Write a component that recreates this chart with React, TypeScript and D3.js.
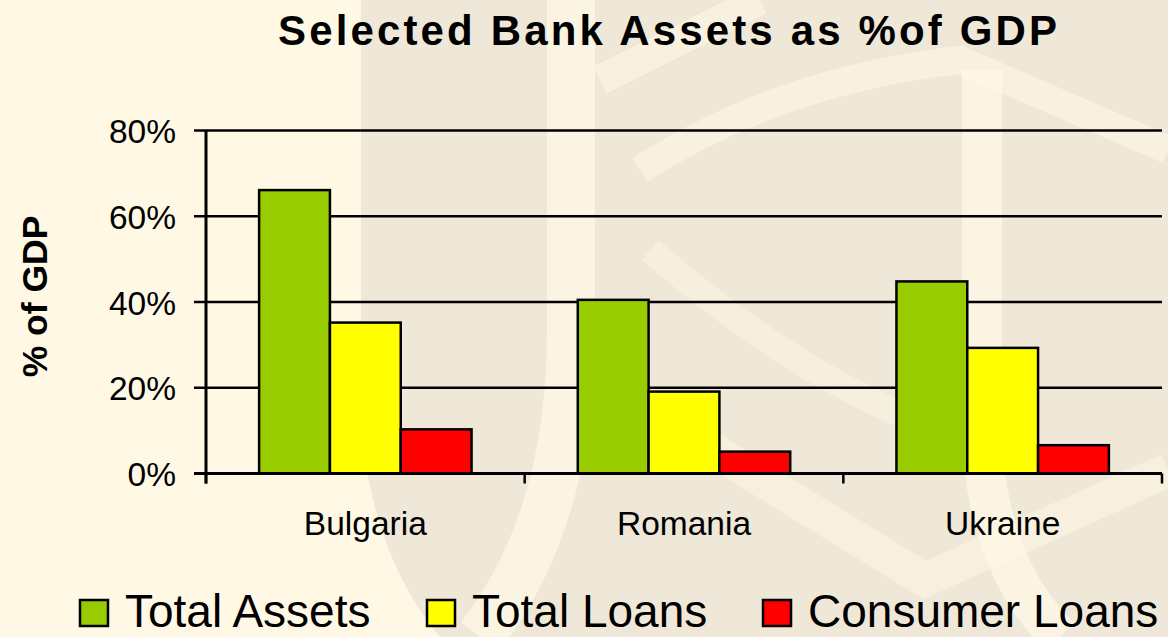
import React from "react";
import * as d3 from "d3";

const categories = ["Bulgaria", "Romania", "Ukraine"];
const seriesNames = ["Total Assets", "Total Loans", "Consumer Loans"];
const totalAssets = [0.661, 0.405, 0.448];
const totalLoans = [0.352, 0.191, 0.293];
const consumerLoans = [0.103, 0.051, 0.066];
const seriesColors = ["#99CC00", "#FFFF00", "#FF0000"];
const yTicks = [0, 0.2, 0.4, 0.6, 0.8];
const titleText = "Selected Bank Assets as %of GDP";
const yAxisTitle = "% of GDP";

const W = 1168;
const H = 637;
const PLOT = { left: 206, right: 1162, top: 130.5, bottom: 473.5 };
const LEGEND_X = [80, 427, 763];
const FONT = "'Liberation Sans', Arial, Helvetica, sans-serif";
const BG = "#FFF8E5";
const WM = "#EFE7D7";

export default function App() {
  const seriesValues = [totalAssets, totalLoans, consumerLoans];
  const x = d3.scaleBand().domain(categories).range([PLOT.left, PLOT.right]).paddingInner(0).paddingOuter(0);
  const xs = d3.scaleBand().domain(seriesNames).range([0, x.bandwidth()]).paddingInner(0).paddingOuter(0.75);
  const y = d3.scaleLinear().domain([0, 0.8]).range([PLOT.bottom, PLOT.top]);
  const fmt = d3.format(".0%");

  const xTickPositions = [...categories.map((c) => x(c) as number), PLOT.right];

  return (
    <svg width={W} height={H} style={{ position: "absolute", left: 0, top: 0, display: "block" }} fontFamily={FONT}>
      <rect x={0} y={0} width={W} height={H} fill={BG} />
      {/* watermark */}
      <g>
        <path d="M 361 0 L 1168 0 L 1168 637 L 440 637 Q 375 560 361 430 Z" fill={WM} />
        <path d="M 571 0 L 571 330 Q 571 520 480 637" stroke={BG} strokeWidth={48} fill="none" opacity={0.8} />
        <path d="M 600 80 L 760 0" stroke={BG} strokeWidth={30} fill="none" opacity={0.6} />
        <path d="M 640 170 Q 780 80 960 60 L 1168 150" stroke={BG} strokeWidth={28} fill="none" opacity={0.6} />
        <path d="M 982 70 L 982 420 Q 982 560 1060 637" stroke={BG} strokeWidth={40} fill="none" opacity={0.75} />
        <path d="M 680 430 L 925 580 L 1168 470" stroke={BG} strokeWidth={34} fill="none" opacity={0.55} />
        <path d="M 650 250 Q 800 380 940 430" stroke={BG} strokeWidth={26} fill="none" opacity={0.45} />
      </g>

      {/* title */}
      <text x={667.5} y={45} textAnchor="middle" fontSize={42} fontWeight="bold" fill="#000" textLength={779} lengthAdjust="spacing">
        {titleText}
      </text>

      {/* gridlines */}
      {yTicks.filter((t) => t > 0).map((t) => (
        <line key={t} x1={PLOT.left} x2={PLOT.right} y1={y(t)} y2={y(t)} stroke="#000" strokeWidth={2.5} />
      ))}

      {/* bars */}
      {categories.map((c, ci) => (
        <g key={c} transform={`translate(${x(c)},0)`}>
          {seriesNames.map((s, si) => {
            const v = seriesValues[si][ci];
            return (
              <rect
                key={s}
                x={xs(s)}
                y={y(v)}
                width={xs.bandwidth()}
                height={y(0) - y(v)}
                fill={seriesColors[si]}
                stroke="#000"
                strokeWidth={2.5}
              />
            );
          })}
        </g>
      ))}

      {/* y axis */}
      <line x1={PLOT.left} x2={PLOT.left} y1={PLOT.top} y2={PLOT.bottom + 10} stroke="#000" strokeWidth={3} />
      {yTicks.map((t) => (
        <g key={t}>
          <line x1={PLOT.left - 12} x2={PLOT.left} y1={y(t)} y2={y(t)} stroke="#000" strokeWidth={2.5} />
          <text x={176} y={y(t) + 12.5} textAnchor="end" fontSize={33.5} fill="#000">
            {fmt(t)}
          </text>
        </g>
      ))}

      {/* x axis */}
      <line x1={PLOT.left - 12} x2={PLOT.right} y1={PLOT.bottom} y2={PLOT.bottom} stroke="#000" strokeWidth={3} />
      {xTickPositions.map((p, i) => (
        <line key={i} x1={p} x2={p} y1={PLOT.bottom} y2={PLOT.bottom + 10} stroke="#000" strokeWidth={2.5} />
      ))}
      {categories.map((c) => (
        <text key={c} x={(x(c) as number) + x.bandwidth() / 2} y={534.5} textAnchor="middle" fontSize={33.5} fill="#000">
          {c}
        </text>
      ))}

      {/* y axis title */}
      <text transform="translate(47,296.5) rotate(-90)" textAnchor="middle" fontSize={35.5} fontWeight="bold" fill="#000">
        {yAxisTitle}
      </text>

      {/* legend */}
      {seriesNames.map((s, i) => (
        <g key={s}>
          <rect x={LEGEND_X[i]} y={600} width={28} height={26} fill={seriesColors[i]} stroke="#000" strokeWidth={2.5} />
          <text x={LEGEND_X[i] + 45} y={627} fontSize={46} fill="#000">
            {s}
          </text>
        </g>
      ))}
    </svg>
  );
}
